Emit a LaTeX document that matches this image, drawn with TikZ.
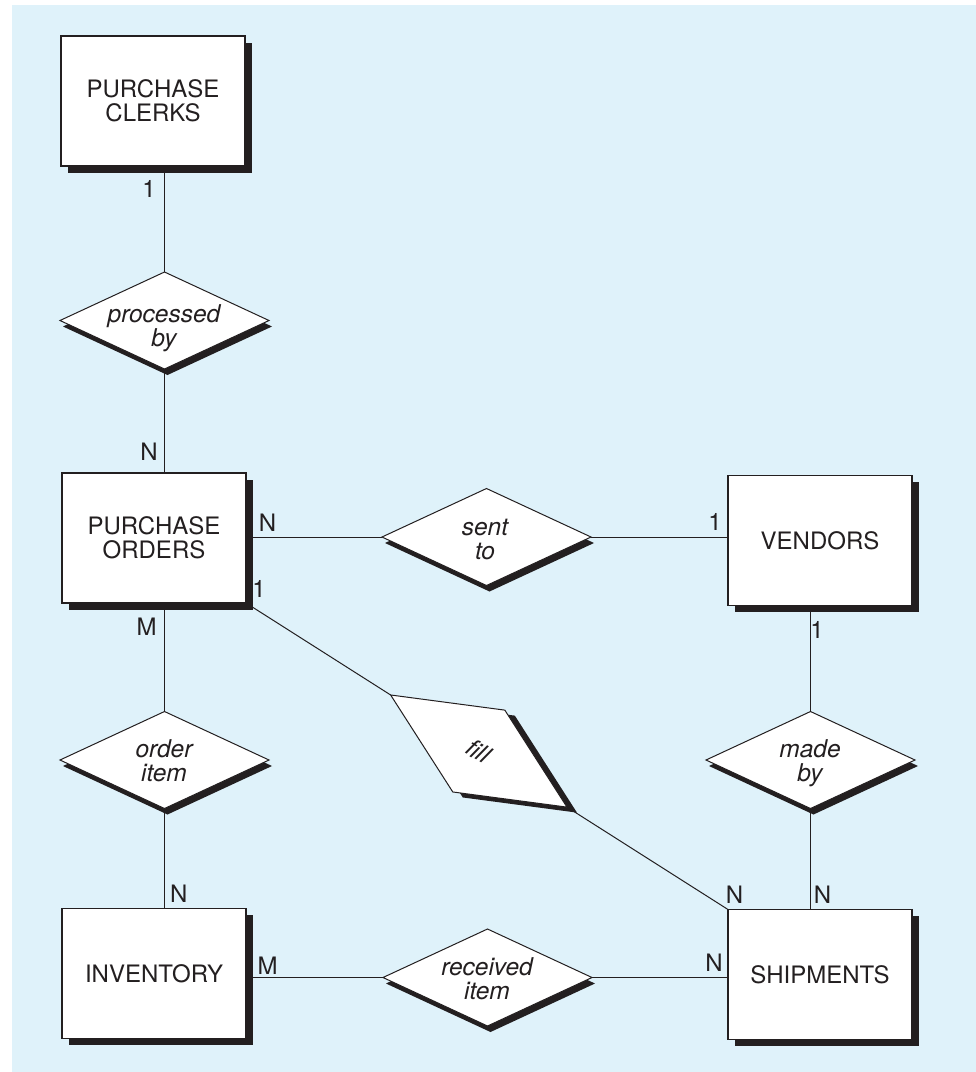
\documentclass[tikz,border=0pt]{standalone}
\usepackage{fontspec}
\setmainfont{TeX Gyre Heros}
\usetikzlibrary{shapes.geometric,shadows}
\definecolor{panel}{HTML}{DFF2FA}
\definecolor{ink}{HTML}{231F20}
\pgfdeclarelayer{panel}
\pgfdeclarelayer{links}
\pgfsetlayers{panel,links,main}
\begin{document}
\begin{tikzpicture}[x=1pt,y=-1pt,
  font=\fontsize{24}{24}\selectfont,
  entity/.style={rectangle, draw=ink, fill=white, line width=1.1pt,
    minimum width=184pt, minimum height=130pt, inner sep=0pt, outer sep=0pt,
    align=center, text=ink,
    drop shadow={shadow xshift=6.5pt, shadow yshift=-6.5pt, fill=ink, opacity=1}},
  relbase/.style={diamond, draw=ink, fill=white, line width=1pt,
    minimum width=209pt, minimum height=97pt, inner sep=0pt, outer sep=0pt},
  relation/.style={relbase,
    drop shadow={shadow xshift=3pt, shadow yshift=-6pt, fill=ink, opacity=1}},
  skewrel/.style={relbase,
    drop shadow={shadow xshift=10pt, shadow yshift=-5.5pt, fill=ink, opacity=1}},
  reltext/.style={align=center, text=ink, inner sep=0pt,
    font=\fontsize{24.5}{24}\selectfont\itshape\addfontfeature{Ligatures=NoCommon}},
  card/.style={text=ink, inner sep=0pt},
  link/.style={draw=ink, line width=1pt},
]
\useasboundingbox (0,0) rectangle (976,1072);
\begin{pgfonlayer}{panel}
  \fill[white] (0,0) rectangle (976,1072);
  \fill[panel] (12,5) rectangle (976,1072);
\end{pgfonlayer}

% entities
\node[entity] (pc)  at (153,101)   {PURCHASE\\CLERKS};
\node[entity] (po)  at (154,538)   {PURCHASE\\ORDERS};
\node[entity] (inv) at (154,973.5) {INVENTORY};
\node[entity] (ven) at (820,540.5) {VENDORS};
\node[entity] (sh)  at (820,974.5) {SHIPMENTS};

% relationships
\node[relation] (pb) at (164.5,320.5) {};
\node[relation] (st) at (486.5,537)   {};
\node[relation] (oi) at (164.5,760)   {};
\node[relation] (mb) at (810.5,760)   {};
\node[relation] (ri) at (487.5,977.5) {};
\path (po.south east) -- (sh.north west)
  node[skewrel, sloped, pos=0.483] (fl) {}
  node[reltext, sloped, pos=0.483] (flt) {fill};

% relationship names (anchor = baseline of the last line)
\node[reltext, anchor=base] (pbt) at (164,346) {processed\\by};
\node[reltext, anchor=base] (stt) at (485,559) {sent\\to};
\node[reltext, anchor=base] (oit) at (164,781) {order\\item};
\node[reltext, anchor=base] (mbt) at (810,781) {made\\by};
\node[reltext, anchor=base] (rit) at (487,999) {received\\item};

% connectors
\begin{pgfonlayer}{links}
  \draw[link] (pc.south -| pb.north) -- (pb.north);
  \draw[link] (pb.south) -- (po.north -| pb.south);
  \draw[link] (po.east |- st.west) -- (st.west);
  \draw[link] (st.east) -- (ven.west |- st.east);
  \draw[link] (po.south -| oi.north) -- (oi.north);
  \draw[link] (oi.south) -- (inv.north -| oi.south);
  \draw[link] (ven.south -| mb.north) -- (mb.north);
  \draw[link] (mb.south) -- (sh.north -| mb.south);
  \draw[link] (inv.east |- ri.west) -- (ri.west);
  \draw[link] (ri.east) -- (sh.west |- ri.east);
  \draw[link] (po.south east) -- (fl.west);
  \draw[link] (fl.east) -- (sh.north west);
\end{pgfonlayer}

% cardinalities
\node[card] (c1)  at (149,188.5)   {1};
\node[card] (c2)  at (149,452)     {N};
\node[card] (c3)  at (267.5,522.7) {N};
\node[card] (c4)  at (259,589)     {1};
\node[card] (c5)  at (146.7,626.7) {M};
\node[card] (c6)  at (715,521.7)   {1};
\node[card] (c7)  at (817,630)     {1};
\node[card] (c8)  at (178.7,893.3) {N};
\node[card] (c9)  at (267.5,965.3) {M};
\node[card] (c10) at (734.5,895)   {N};
\node[card] (c11) at (822.5,895)   {N};
\node[card] (c12) at (714,962.3)   {N};
\end{tikzpicture}
\end{document}
